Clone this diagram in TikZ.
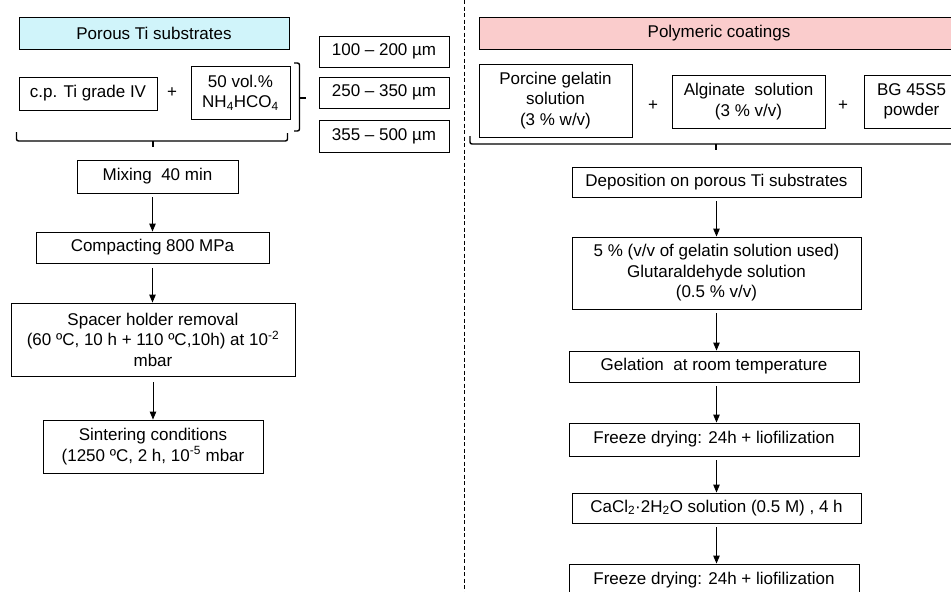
\documentclass[tikz,border=0pt]{standalone}
\usepackage{fontspec}
\setmainfont{Liberation Sans}
\usetikzlibrary{arrows.meta}
\definecolor{cyanfill}{RGB}{208,244,250}
\definecolor{pinkfill}{RGB}{250,204,204}
\begin{document}
\begin{tikzpicture}[x=1pt,y=-1pt,
  every node/.style={font=\fontsize{17}{20.5}\selectfont},
  box/.style={draw, line width=0.9pt, inner sep=0pt, align=center, anchor=center},
  arr/.style={-{Triangle[length=8pt,width=6.5pt]}, line width=0.9pt},
  brk/.style={line width=1.4pt, rounded corners=2pt},
  plus/.style={inner sep=0pt}
]
\useasboundingbox (0,0) rectangle (951,592);

% ---------- left column ----------
\node[box, fill=cyanfill, minimum width=270, minimum height=32] (t1) at (154,33) {Porous Ti substrates};
\node[box, minimum width=138, minimum height=33] (cpti) at (88,93.5) {c.p. Ti grade IV};
\node[plus] (p1) at (172,93) {+};
\node[box, minimum width=99, minimum height=53] (nh4) at (240.5,92.5) {50 vol.\%\\NH\textsubscript{4}HCO\textsubscript{4}};
\node[box, minimum width=130, minimum height=31] (s1) at (384,51.5) {100 – 200 µm};
\node[box, minimum width=130, minimum height=31] (s2) at (384,92.5) {250 – 350 µm};
\node[box, minimum width=130, minimum height=32] (s3) at (384,136) {355 – 500 µm};

\draw[brk] (294,63) -- (299.5,63) -- (299.5,131) -- (294,131);
\draw[brk] (299.5,98) -- (306,98);
\draw[brk] (16.5,132) -- (16.5,141) -- (287.5,141) -- (287.5,133);
\draw[brk] (153,141) -- (153,147);

\node[box, minimum width=161, minimum height=33] (mix) at (157.5,176.5) {Mixing\ \ 40 min};
\node[box, minimum width=233, minimum height=31] (comp) at (152.5,247.5) {Compacting 800 MPa};
\node[box, minimum width=284, minimum height=73] (spacer) at (153,339.5) {Spacer holder removal\\(60 ºC, 10 h + 110 ºC,10h) at 10\textsuperscript{-2}\\mbar};
\node[box, minimum width=220, minimum height=53] (sinter) at (153,446.5) {Sintering conditions\\(1250 ºC, 2 h, 10\textsuperscript{-5} mbar};

\draw[arr, shorten <=4pt] (mix.south -| comp.north) -- (comp.north);
\draw[arr, shorten <=5pt] (comp.south) -- (comp.south |- spacer.north);
\draw[arr, shorten <=6pt] (spacer.south) -- (spacer.south |- sinter.north);

% ---------- divider ----------
\draw[line width=0.8pt, dash pattern=on 4pt off 2.5pt] (464,0) -- (464,592);

% ---------- right column ----------
\node[box, fill=pinkfill, minimum width=480, minimum height=32] (t2) at (719,33) {Polymeric coatings};
\node[box, minimum width=153, minimum height=73] (gel) at (555.5,100.5) {Porcine gelatin\\solution\\(3 \% w/v)};
\node[plus] (p2) at (653,106) {+};
\node[box, minimum width=153, minimum height=53] (alg) at (748.5,101.5) {Alginate\ \ solution\\(3 \% v/v)};
\node[plus] (p3) at (843,106) {+};
\node[box, minimum width=95, minimum height=53] (bg) at (911.5,101.5) {BG 45S5\\powder};

\draw[brk] (470,136) -- (470,144) -- (960,144);
\draw[brk] (716,144) -- (716,150);

\node[box, minimum width=289, minimum height=30] (dep) at (716.5,182) {Deposition on porous Ti substrates};
\node[box, minimum width=289, minimum height=72] (glut) at (716.5,273) {5 \% (v/v of gelatin solution used)\\Glutaraldehyde solution\\(0.5 \% v/v)};
\node[box, minimum width=290, minimum height=31] (gelr) at (714,366.5) {Gelation\ \ at room temperature};
\node[box, minimum width=290, minimum height=33] (fd1) at (714,439.5) {Freeze drying: 24h + liofilization};
\node[box, minimum width=289, minimum height=30] (cacl) at (716.5,508) {CaCl\textsubscript{2}·2H\textsubscript{2}O solution (0.5 M) , 4 h};
\node[box, minimum width=290, minimum height=33] (fd2) at (714,580.5) {Freeze drying: 24h + liofilization};

\draw[arr, shorten <=4pt] (dep.south) -- (dep.south |- glut.north);
\draw[arr, shorten <=4pt] (glut.south) -- (glut.south |- gelr.north);
\draw[arr, shorten <=4pt] (gelr.south -| dep.south) -- (dep.south |- fd1.north);
\draw[arr, shorten <=4pt] (fd1.south -| dep.south) -- (dep.south |- cacl.north);
\draw[arr, shorten <=4pt] (cacl.south) -- (cacl.south |- fd2.north);
\end{tikzpicture}
\end{document}
